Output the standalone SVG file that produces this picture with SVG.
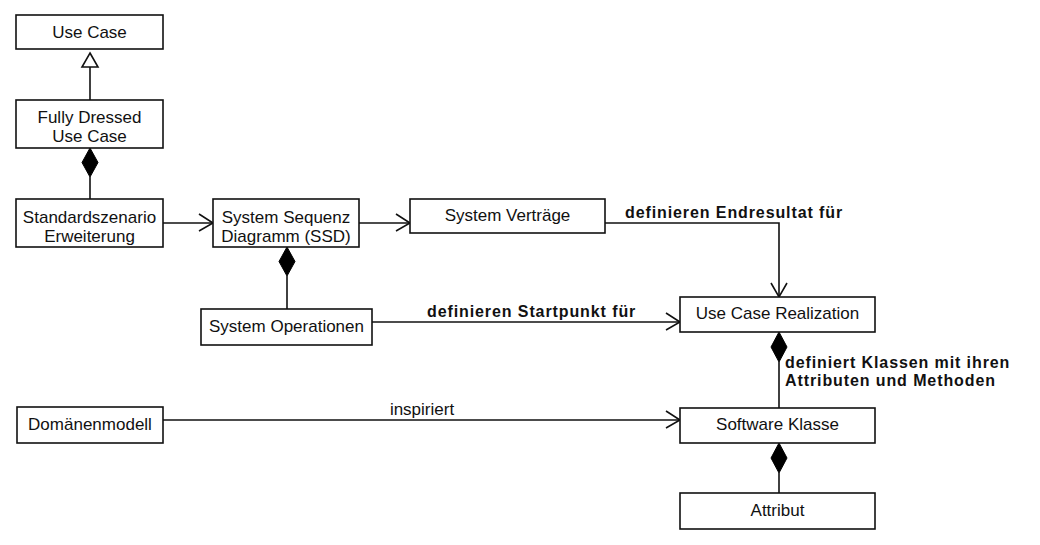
<svg xmlns="http://www.w3.org/2000/svg" width="1040" height="545" viewBox="0 0 1040 545">
<style>
.box{fill:#fff;stroke:#111;stroke-width:1.6}
.t{font-family:"Liberation Sans",Arial,sans-serif;font-size:17px;fill:#111;text-anchor:middle}
.b{font-family:"Liberation Sans",Arial,sans-serif;font-size:16px;font-weight:bold;letter-spacing:0.9px;fill:#111}
.l{fill:none;stroke:#111;stroke-width:1.6}
.d{fill:#000;stroke:#000;stroke-width:1}
.g{fill:#fff;stroke:#111;stroke-width:1.6}
</style>
<rect width="1040" height="545" fill="#fff"/>
<g id="connectors">
  <!-- generalization -->
  <line class="l" x1="90" y1="100" x2="90" y2="67"/>
  <polygon class="g" points="90,53 98,67 82,67"/>
  <!-- composition Fully Dressed - Standardszenario -->
  <line class="l" x1="90" y1="177" x2="90" y2="199"/>
  <polygon class="d" points="90,148 98,162.5 90,177 82,162.5"/>
  <!-- Standardszenario -> SSD -->
  <line class="l" x1="163" y1="223" x2="212" y2="223"/>
  <polyline class="l" points="199,214 213,223 199,231"/>
  <!-- SSD -> Vertraege -->
  <line class="l" x1="359" y1="223" x2="409" y2="223"/>
  <polyline class="l" points="396,214 410,223 396,231"/>
  <!-- Vertraege -> UCR -->
  <polyline class="l" points="605,223 779,223 779,296"/>
  <polyline class="l" points="771,283 779,297 787,283"/>
  <text class="b" x="625" y="218">definieren Endresultat für</text>
  <!-- SSD composition System Operationen -->
  <line class="l" x1="287" y1="276" x2="287" y2="309"/>
  <polygon class="d" points="287,247 295,261.5 287,276 279,261.5"/>
  <!-- System Operationen -> UCR -->
  <line class="l" x1="372" y1="322" x2="679" y2="322"/>
  <polyline class="l" points="666,313 680,322 666,330"/>
  <text class="b" x="427" y="317">definieren Startpunkt für</text>
  <!-- UCR composition Software Klasse -->
  <line class="l" x1="779" y1="362" x2="779" y2="408"/>
  <polygon class="d" points="779,332 787,347 779,362 771,347"/>
  <text class="b" x="785" y="368">definiert Klassen mit ihren</text>
  <text class="b" x="785" y="386">Attributen und Methoden</text>
  <!-- Domaenenmodell -> Software Klasse -->
  <line class="l" x1="163" y1="420" x2="679" y2="420"/>
  <polyline class="l" points="666,411 680,420 666,428"/>
  <text class="t" x="422" y="415">inspiriert</text>
  <!-- Software Klasse composition Attribut -->
  <line class="l" x1="779" y1="473" x2="779" y2="493"/>
  <polygon class="d" points="779,443 787,458 779,473 771,458"/>
</g>
<g id="use-case">
  <rect class="box" x="16" y="15" width="147" height="34"/>
  <text class="t" x="89.5" y="38">Use Case</text>
</g>
<g id="fully-dressed">
  <rect class="box" x="16" y="100" width="147" height="48"/>
  <text class="t" x="89.5" y="123">Fully Dressed</text>
  <text class="t" x="89.5" y="142">Use Case</text>
</g>
<g id="standardszenario">
  <rect class="box" x="16" y="199" width="147" height="48"/>
  <text class="t" x="89.5" y="223">Standardszenario</text>
  <text class="t" x="89.5" y="242">Erweiterung</text>
</g>
<g id="ssd">
  <rect class="box" x="213" y="199" width="146" height="48"/>
  <text class="t" x="286" y="223">System Sequenz</text>
  <text class="t" x="286" y="242">Diagramm (SSD)</text>
</g>
<g id="system-vertraege">
  <rect class="box" x="410" y="199" width="195" height="34"/>
  <text class="t" x="507.5" y="221">System Verträge</text>
</g>
<g id="system-operationen">
  <rect class="box" x="201" y="309" width="171" height="36"/>
  <text class="t" x="286.5" y="332">System Operationen</text>
</g>
<g id="use-case-realization">
  <rect class="box" x="680" y="297" width="195" height="35"/>
  <text class="t" x="777.5" y="319">Use Case Realization</text>
</g>
<g id="domaenenmodell">
  <rect class="box" x="17" y="407" width="146" height="36"/>
  <text class="t" x="90" y="430">Domänenmodell</text>
</g>
<g id="software-klasse">
  <rect class="box" x="680" y="408" width="195" height="35"/>
  <text class="t" x="777.5" y="430">Software Klasse</text>
</g>
<g id="attribut">
  <rect class="box" x="680" y="493" width="195" height="36"/>
  <text class="t" x="777.5" y="516">Attribut</text>
</g>
</svg>
